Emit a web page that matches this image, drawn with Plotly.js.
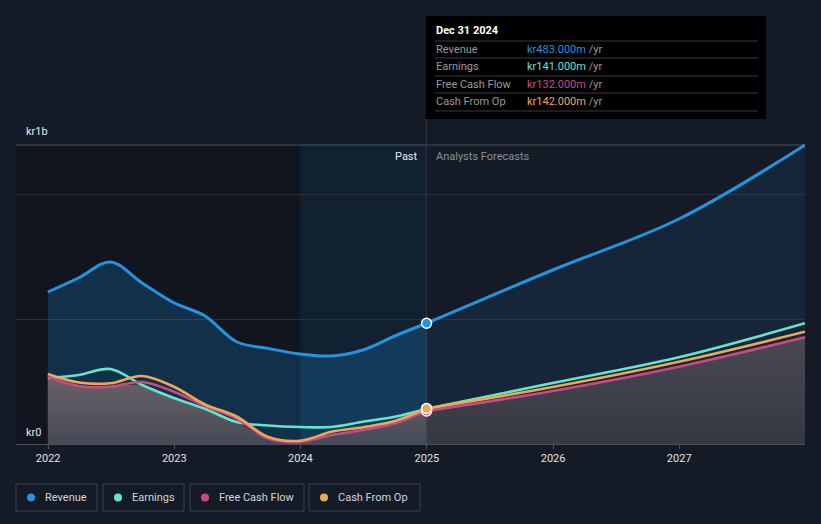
<!DOCTYPE html>
<html>
<head>
<meta charset="utf-8">
<script src="https://cdn.plot.ly/plotly-3.0.1.min.js"></script>
<style>
  html, body { margin: 0; padding: 0; background: #151b26; }
  #chart { width: 821px; height: 524px; }
</style>
</head>
<body>
<div id="chart"></div>
<script>
// ---- data (millions of kr) ----
const pastDates = ['2021-12-31','2022-03-31','2022-06-30','2022-09-30','2022-12-31','2023-03-31','2023-06-30','2023-09-30','2023-12-31','2024-03-31','2024-06-30','2024-09-30','2024-12-31'];
const revenuePast  = [608, 665, 728, 644, 565, 512, 409, 382, 360, 352, 376, 432, 483];
const earningsPast = [264, 276, 300, 236, 184, 141, 88, 74, 68, 68, 89, 109, 141];
const fcfPast      = [269, 232, 229, 248, 209, 152, 102, 22, 8, 36, 56, 83, 132];
const cfoPast      = [280, 246, 243, 272, 229, 158, 110, 28, 13, 49, 67, 92, 142];

const fcDates = ['2024-12-31','2025-12-31','2026-12-31','2027-12-31'];
const revenueFc  = [483, 696, 900, 1196];
const earningsFc = [141, 244, 347, 483];
const fcfFc      = [132, 212, 309, 427];
const cfoFc      = [142, 228, 329, 449];

const tickYears = ['2022','2023','2024','2025','2026','2027'];
const seriesNames = ['Revenue','Earnings','Free Cash Flow','Cash From Op'];
const tooltipValues = ['kr483.000m','kr141.000m','kr132.000m','kr142.000m'];
const tooltipDate = 'Dec 31 2024';
const yLabels = ['kr0','kr1b'];

const colors = ['#2394e0','#62e4cd','#cc4a84','#eba957'];

// ---- helpers ----
const W = 821, H = 524, L = 16, R = 16, T = 144, B = 80;
const PW = W - L - R, PH = H - T - B;
const px = x => (x - L) / PW;
const py = y => (T + PH - y) / PH;
const X0 = '2021-09-30', X1 = '2027-12-31';

const minPast = pastDates.map((_, i) => Math.min(earningsPast[i], fcfPast[i], cfoPast[i]));
const minFc = fcDates.map((_, i) => Math.min(earningsFc[i], fcfFc[i], cfoFc[i]));

const lineCfg = (c, w) => ({color: c, width: w, shape: 'spline', smoothing: 1});

const traces = [];
// revenue fills
traces.push({x: pastDates, y: revenuePast, type: 'scatter', mode: 'lines', fill: 'tozeroy',
  fillcolor: 'rgba(33,150,243,0.21)', line: lineCfg(colors[0], 3)});
traces.push({x: fcDates, y: revenueFc, type: 'scatter', mode: 'lines', fill: 'tozeroy',
  fillcolor: 'rgba(33,150,243,0.09)', line: lineCfg(colors[0], 3)});
// grey fills under the lower series
traces.push({x: pastDates, y: minPast, type: 'scatter', mode: 'lines', fill: 'tozeroy',
  fillcolor: 'rgba(112,104,108,0.78)',
  fillgradient: {type: 'vertical', start: 0, stop: 290,
    colorscale: [[0, 'rgba(78,78,88,0.85)'], [1, 'rgba(124,108,108,0.85)']]},
  line: {color: 'rgba(0,0,0,0)', width: 0, shape: 'spline', smoothing: 1}});
traces.push({x: fcDates, y: minFc, type: 'scatter', mode: 'lines', fill: 'tozeroy',
  fillcolor: 'rgba(74,72,82,0.8)',
  fillgradient: {type: 'vertical', start: 0, stop: 430,
    colorscale: [[0, 'rgba(58,60,70,0.85)'], [1, 'rgba(82,78,88,0.85)']]},
  line: {color: 'rgba(0,0,0,0)', width: 0, shape: 'spline', smoothing: 1}});
// lower series lines
[[earningsPast, earningsFc, 1], [fcfPast, fcfFc, 2], [cfoPast, cfoFc, 3]].forEach(([p, f, k]) => {
  traces.push({x: pastDates, y: p, type: 'scatter', mode: 'lines', line: lineCfg(colors[k], 2.6)});
  traces.push({x: fcDates, y: f, type: 'scatter', mode: 'lines', line: lineCfg(colors[k], 2.6)});
});
// markers at the hovered date
[[earningsPast, 1], [fcfPast, 2], [cfoPast, 3], [revenuePast, 0]].forEach(([arr, k]) => {
  const i = arr.length - 1;
  traces.push({x: [pastDates[i]], y: [arr[i]], type: 'scatter', mode: 'markers', cliponaxis: false,
    marker: {size: 10, color: colors[k], line: {color: '#ffffff', width: 1.5}}});
});

// ---- shapes ----
const shapes = [
  {type: 'rect', xref: 'x', yref: 'paper', x0: X0, x1: '2024-01-01', y0: 0, y1: 1,
    fillcolor: '#10151e', line: {width: 0}, layer: 'below'},
  {type: 'rect', xref: 'x', yref: 'paper', x0: '2024-01-01', x1: '2024-12-31', y0: 0, y1: 1,
    fillcolor: '#112132', line: {width: 0}, layer: 'below'},
  {type: 'line', xref: 'paper', yref: 'y', x0: 0, x1: 1, y0: 1196, y1: 1196,
    line: {color: '#4c525c', width: 1}, layer: 'below'},
  {type: 'line', xref: 'x', yref: 'paper', x0: '2024-12-31', x1: '2024-12-31', y0: 0, y1: py(16),
    line: {color: '#2c3644', width: 1}, layer: 'below'},
  // tooltip box
  {type: 'rect', xref: 'paper', yref: 'paper', x0: px(426), x1: px(766), y0: py(119), y1: py(16),
    fillcolor: '#000000', line: {width: 0}, layer: 'above'}
];
[41, 58, 76, 93, 111].forEach(y => shapes.push({type: 'line', xref: 'paper', yref: 'paper',
  x0: px(435), x1: px(758), y0: py(y), y1: py(y), line: {color: '#3a3a3a', width: 1}, layer: 'above'}));

// ---- annotations ----
const font = 'Roboto, "Noto Sans", sans-serif';
const annotations = [
  {xref: 'paper', yref: 'paper', x: px(24), y: py(131), xanchor: 'left', yanchor: 'middle', showarrow: false,
    text: yLabels[1], font: {family: font, size: 11, color: '#e6e6e6'}},
  {xref: 'paper', yref: 'paper', x: px(24), y: py(432), xanchor: 'left', yanchor: 'middle', showarrow: false,
    text: yLabels[0], font: {family: font, size: 11, color: '#e6e6e6'}},
  {xref: 'x', yref: 'paper', x: '2024-12-31', xshift: -7, y: py(156), xanchor: 'right', yanchor: 'middle', showarrow: false,
    text: 'Past', font: {family: font, size: 11, color: '#e8e8e8'}},
  {xref: 'x', yref: 'paper', x: '2024-12-31', xshift: 7, y: py(156), xanchor: 'left', yanchor: 'middle', showarrow: false,
    text: 'Analysts Forecasts', font: {family: font, size: 11, color: '#8a9099'}},
  {xref: 'paper', yref: 'paper', x: px(434), y: py(31), xanchor: 'left', yanchor: 'middle', showarrow: false,
    text: '<b>' + tooltipDate + '</b>', font: {family: font, size: 11, color: '#ffffff'}}
];
const rowY = [49, 66, 84, 101];
seriesNames.forEach((n, i) => {
  annotations.push({xref: 'paper', yref: 'paper', x: px(434), y: py(rowY[i]), xanchor: 'left', yanchor: 'middle',
    showarrow: false, text: n, font: {family: font, size: 11, color: '#9a9a9a'}});
  annotations.push({xref: 'paper', yref: 'paper', x: px(525), y: py(rowY[i]), xanchor: 'left', yanchor: 'middle',
    showarrow: false, text: '<span style="color:' + colors[i] + '">' + tooltipValues[i] + '</span> /yr',
    font: {family: font, size: 11, color: '#9a9a9a'}});
});
// legend boxes
const legBoxes = [[16, 97], [103, 184], [190, 304], [309, 420]];
legBoxes.forEach(([x0, x1], i) => {
  shapes.push({type: 'rect', xref: 'paper', yref: 'paper', x0: px(x0), x1: px(x1), y0: py(511), y1: py(484),
    line: {color: '#3b424d', width: 1}, fillcolor: 'rgba(0,0,0,0)'});
  shapes.push({type: 'circle', xref: 'paper', yref: 'paper', x0: px(x0 + 11), x1: px(x0 + 19), y0: py(501.5), y1: py(493.5),
    fillcolor: colors[i], line: {width: 0}});
  annotations.push({xref: 'paper', yref: 'paper', x: px(x0 + 27), y: py(497.5), xanchor: 'left', yanchor: 'middle',
    showarrow: false, text: seriesNames[i], font: {family: font, size: 11, color: '#d2d4d8'}});
});

const layout = {
  width: W, height: H,
  margin: {l: L, r: R, t: T, b: B},
  paper_bgcolor: '#151b26', plot_bgcolor: '#151b26',
  showlegend: false, hovermode: false,
  xaxis: {type: 'date', range: [X0, X1],
    tickvals: tickYears.map(y => y + '-01-01'), ticktext: tickYears,
    showgrid: false, zeroline: false, showline: true, linecolor: '#4a505a', linewidth: 1,
    ticks: 'outside', ticklen: 4, tickcolor: '#4a505a',
    tickfont: {family: font, size: 11, color: '#e2e2e2'}},
  yaxis: {range: [0, 1200], tickvals: [500, 1000], showticklabels: false,
    showgrid: true, gridcolor: '#2a303a', gridwidth: 1, zeroline: false, fixedrange: true},
  shapes: shapes, annotations: annotations
};

Plotly.newPlot('chart', traces, layout, {displayModeBar: false, staticPlot: true});
</script>
</body>
</html>
